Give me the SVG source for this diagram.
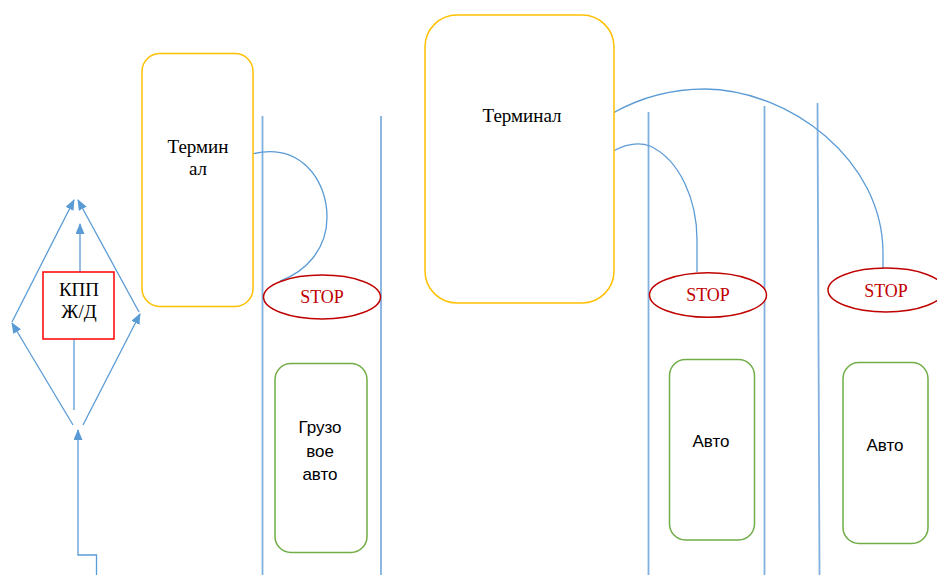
<svg xmlns="http://www.w3.org/2000/svg" width="937" height="575" viewBox="0 0 937 575">
<style>
.conn{fill:none;stroke:#5b9bd5;stroke-width:1.3}
.lane{fill:none;stroke:#7fb0e0;stroke-width:1.8}
.term{fill:#fff;stroke:#ffc000;stroke-width:1.5}
.car{fill:#fff;stroke:#70ad47;stroke-width:1.5}
.stop{fill:#fff;stroke:#c00000;stroke-width:1.5}
.kpp{fill:#fff;stroke:#ff0000;stroke-width:1.5}
.serif{font-family:"Liberation Serif","Times New Roman",serif;font-size:19px;fill:#000;text-anchor:middle}
.sans{font-family:"Liberation Sans",Arial,sans-serif;font-size:17px;fill:#000;text-anchor:middle}
.stopt{font-family:"Liberation Serif","Times New Roman",serif;font-size:18px;fill:#c00000;text-anchor:middle}
</style>
<defs>
<marker id="arr" markerUnits="userSpaceOnUse" markerWidth="11" markerHeight="9" refX="10" refY="4.5" orient="auto" viewBox="0 0 11 9">
<path d="M0,0 L11,4.5 L0,9 z" fill="#5b9bd5"/>
</marker>
</defs>
<rect width="937" height="575" fill="#fff"/>
<g id="lanes">
<line class="lane" x1="262.5" y1="116" x2="262.5" y2="575"/>
<line class="lane" x1="381" y1="116" x2="381" y2="575"/>
<line class="lane" x1="648.5" y1="112" x2="648.5" y2="575"/>
<line class="lane" x1="764.5" y1="106" x2="764.5" y2="575"/>
<line class="lane" x1="817.5" y1="103" x2="819.5" y2="575"/>
</g>
<g id="connectors">
<path class="conn" d="M96.5,575 V555 H78 V430" marker-end="url(#arr)"/>
<path class="conn" d="M73,425 L12,323" marker-end="url(#arr)"/>
<path class="conn" d="M12,322 L74,200" marker-end="url(#arr)"/>
<path class="conn" d="M83,425 L140,314" marker-end="url(#arr)"/>
<path class="conn" d="M139,312 L78,200" marker-end="url(#arr)"/>
<path class="conn" d="M74,410 V339"/>
<path class="conn" d="M80,272 V224" marker-end="url(#arr)"/>
<path class="conn" d="M248,155 C300,140 327,180 327,217 C327,250 305,272 280,281"/>
<path class="conn" d="M613,151 C630,142 642,143 650,146 C680,160 697,200 697,240 V272"/>
<path class="conn" d="M613,113 C645,95 675,89 705,89 C790,90 883,160 883,253 V268"/>
</g>
<g id="kpp">
<rect class="kpp" x="43" y="272" width="71" height="67"/>
<text class="serif" x="79" y="296">КПП</text>
<text class="serif" x="79" y="318">Ж/Д</text>
</g>
<g id="terminal1">
<rect class="term" x="142" y="53.5" width="111" height="253" rx="18"/>
<text class="serif" x="198" y="153">Термин</text>
<text class="serif" x="198" y="175">ал</text>
</g>
<g id="terminal2">
<rect class="term" x="425" y="15" width="189" height="288" rx="32"/>
<text class="serif" x="522" y="122">Терминал</text>
</g>
<g id="stop1">
<ellipse class="stop" cx="322" cy="297" rx="58.5" ry="22"/>
<text class="stopt" x="322" y="303">STOP</text>
</g>
<g id="stop2">
<ellipse class="stop" cx="708" cy="295" rx="58.5" ry="22.3"/>
<text class="stopt" x="708" y="301">STOP</text>
</g>
<g id="stop3">
<ellipse class="stop" cx="886" cy="290" rx="58" ry="22"/>
<text class="stopt" x="886" y="297">STOP</text>
</g>
<g id="truck">
<rect class="car" x="275" y="363.5" width="92" height="189" rx="16"/>
<text class="sans" x="320" y="433">Грузо</text>
<text class="sans" x="320" y="457">вое</text>
<text class="sans" x="320" y="480">авто</text>
</g>
<g id="car1">
<rect class="car" x="669.5" y="359.5" width="85" height="180.5" rx="16"/>
<text class="sans" x="711" y="447">Авто</text>
</g>
<g id="car2">
<rect class="car" x="843" y="362.5" width="85" height="181" rx="16"/>
<text class="sans" x="885" y="451">Авто</text>
</g>
</svg>
